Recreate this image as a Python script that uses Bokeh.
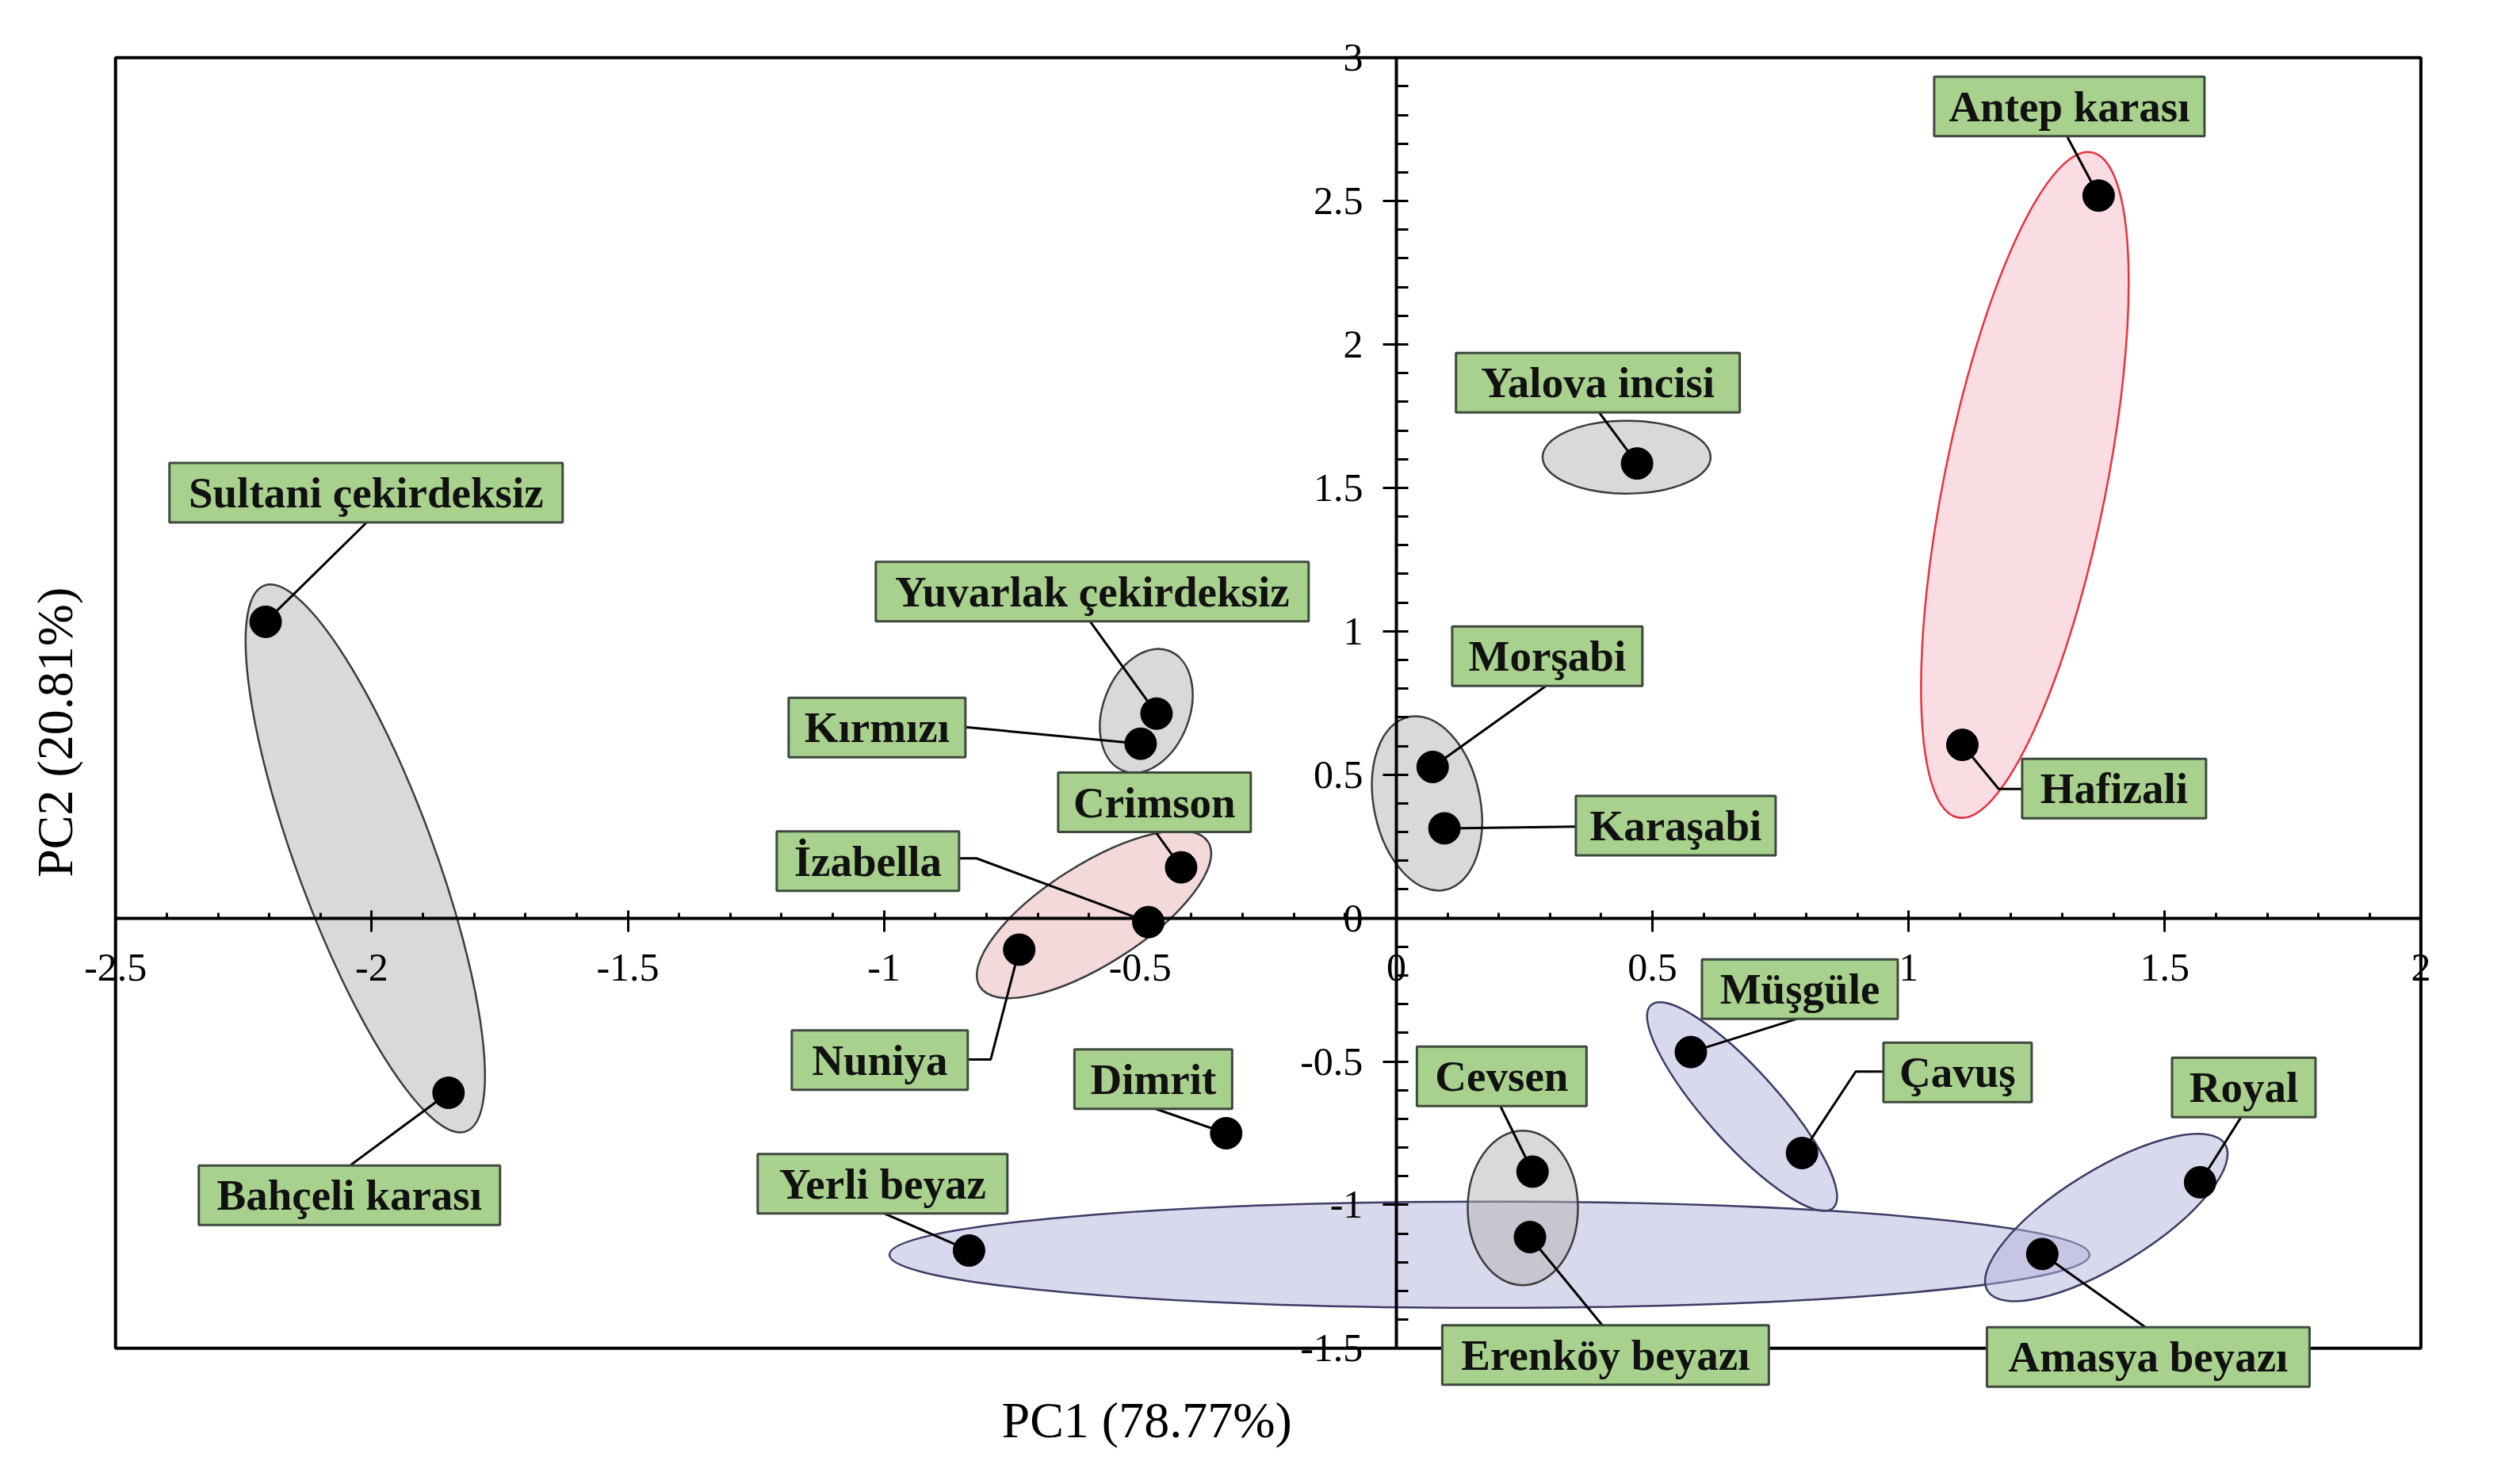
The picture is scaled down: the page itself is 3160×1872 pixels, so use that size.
import numpy as np
from bokeh.plotting import figure
from bokeh.models import Range1d, FixedTicker, Label, ColumnDataSource
from bokeh.embed import file_html
from bokeh.resources import INLINE
from bokeh.core.properties import value

# ---------------- data ----------------
cultivars = ["Sultani çekirdeksiz", "Bahçeli karası", "Yuvarlak çekirdeksiz", "Kırmızı",
             "Crimson", "İzabella", "Nuniya", "Dimrit", "Yerli beyaz", "Yalova incisi",
             "Antep karası", "Hafizali", "Morşabi", "Karaşabi", "Müşgüle", "Çavuş",
             "Cevsen", "Erenköy beyazı", "Royal", "Amasya beyazı"]
pc1 = [-2.207, -1.850, -0.468, -0.499, -0.420, -0.484, -0.736, -0.332, -0.834, 0.470,
       1.371, 1.105, 0.071, 0.094, 0.575, 0.792, 0.266, 0.261, 1.569, 1.261]
pc2 = [1.033, -0.609, 0.713, 0.608, 0.177, -0.014, -0.110, -0.750, -1.159, 1.585,
       2.519, 0.604, 0.527, 0.313, -0.467, -0.819, -0.884, -1.112, -0.921, -1.171]

x_ticks = [-2.5, -2, -1.5, -1, -0.5, 0, 0.5, 1, 1.5, 2]
x_tick_labels = ["-2.5", "-2", "-1.5", "-1", "-0.5", "0", "0.5", "1", "1.5", "2"]
y_ticks = [-1.5, -1, -0.5, 0, 0.5, 1, 1.5, 2, 2.5, 3]
y_tick_labels = ["-1.5", "-1", "-0.5", "0", "0.5", "1", "1.5", "2", "2.5", "3"]
x_title = "PC1 (78.77%)"
y_title = "PC2 (20.81%)"

# ---------------- layout (group ellipses, label boxes, leaders) ----------------
# centre x, centre y (data), width px, height px, angle deg, style
ellipses = [
    (0.182, -1.1736, 1514, 134, 0.0, "blue"),
    (-2.0125, 0.208, 734, 173, -69.7, "gray"),
    (-0.488, 0.7225, 162, 109, 69.2, "gray"),
    (-0.590, 0.013, 341, 126, 32.4, "pink"),
    (0.4496, 1.607, 212, 92, 0.0, "gray"),
    (1.227, 1.510, 856, 204, 78.6, "red"),
    (0.060, 0.400, 223, 134, -78.2, "gray"),
    (0.675, -0.657, 344, 92, -48.1, "blue"),
    (0.247, -1.0105, 139, 195, 0.0, "gray"),
    (1.386, -1.044, 352, 120, 31.7, "blue"),
]
styles = {
    "gray": ("#b4b4b4", "#3c3c3c"),
    "blue": ("#b4b4dc", "#3c3c66"),
    "pink": ("#e7b4b4", "#3c3c3c"),
    "red": ("#f6bcc5", "#e8323e"),
}
# box centre x, y (data), box width px, leader start / elbow points (data)
boxes = [
    (-2.011, 1.483, 496, [(-2.0094, 1.3803)]),
    (-2.0435, -0.966, 380, [(-2.041, -0.861)]),
    (-0.5935, 1.1385, 546, [(-0.598, 1.0348)]),
    (-1.0136, 0.6645, 223, [(-0.841, 0.6658)]),
    (-0.472, 0.4036, 243, [(-0.4697, 0.2996)]),
    (-1.0314, 0.1987, 230, [(-0.8534, 0.2084), (-0.8194, 0.2084)]),
    (-1.0082, -0.495, 222, [(-0.8364, -0.4928), (-0.7916, -0.4928)]),
    (-0.4743, -0.5616, 199, [(-0.4697, -0.665)]),
    (-1.0028, -0.926, 315, [(-0.9989, -1.0299)]),
    (0.3935, 1.8668, 358, [(0.3963, 1.7623)]),
    (1.3138, 2.83, 341, [(1.3099, 2.7236)]),
    (1.4012, 0.4516, 232, [(1.2217, 0.45), (1.1759, 0.45)]),
    (0.2948, 0.9132, 240, [(0.2917, 0.809)]),
    (0.5455, 0.3226, 252, [(0.3505, 0.319)]),
    (0.7878, -0.2474, 247, [(0.7863, -0.3488)]),
    (1.0956, -0.5379, 187, [(0.9509, -0.5351), (0.8968, -0.5351)]),
    (0.2058, -0.5517, 214, [(0.2035, -0.6567)]),
    (0.4085, -1.5232, 412, [(0.4031, -1.4215)]),
    (1.6543, -0.5904, 181, [(1.6489, -0.6943)]),
    (1.4678, -1.5301, 407, [(1.4638, -1.4287)]),
]
BOX_H = 75

p = figure(frame_width=3102, frame_height=1791,
           x_range=Range1d(-2.70, 2.10), y_range=Range1d(-1.85, 3.10),
           output_backend="svg", toolbar_location=None,
           min_border_left=16, min_border_right=10, min_border_top=36, min_border_bottom=10)
p.grid.visible = False
p.outline_line_color = None
p.background_fill_color = "white"

# frame rectangle
p.quad(left=[-2.5], right=[2], bottom=[-1.5], top=[3], fill_color=None,
       line_color="black", line_width=4)

# group ellipses
for cx, cy, w, h, ang, st in ellipses:
    fc, lc = styles[st]
    p.ellipse(x=[cx], y=[cy], width=[w], height=[h], angle=[ang], angle_units="deg",
              width_units="screen", height_units="screen",
              fill_color=fc, fill_alpha=0.5, line_color=lc, line_width=2.5)

# leader lines
xs, ys = [], []
for (bx, by, bw, pts), px, py in zip(boxes, pc1, pc2):
    xs.append([q[0] for q in pts] + [px])
    ys.append([q[1] for q in pts] + [py])
p.multi_line(xs=xs, ys=ys, line_color="black", line_width=3)

# points
src = ColumnDataSource(dict(x=pc1, y=pc2, name=cultivars))
p.scatter("x", "y", source=src, size=40, color="black")

# label boxes
bsrc = ColumnDataSource(dict(x=[b[0] for b in boxes], y=[b[1] for b in boxes],
                             w=[b[2] for b in boxes], name=cultivars))
p.rect("x", "y", width="w", height=BOX_H, width_units="screen", height_units="screen",
       source=bsrc, fill_color="#a9d18e", line_color="#3d4a3d", line_width=3)
p.text("x", "y", text="name", source=bsrc, text_font=value("Liberation Serif"),
       text_font_style="bold", text_font_size="55px", text_align="center",
       text_baseline="middle", text_color="#111111")

# axes crossing at the origin
xa = p.xaxis[0]
ya = p.yaxis[0]
xminor = [round(v, 1) for v in np.arange(-2.5, 2.0001, 0.1)]
yminor = [round(v, 1) for v in np.arange(-1.5, 3.0001, 0.1)]
xa.ticker = FixedTicker(ticks=x_ticks, minor_ticks=xminor)
ya.ticker = FixedTicker(ticks=y_ticks, minor_ticks=yminor)
xa.major_label_overrides = {float(t): s for t, s in zip(x_ticks, x_tick_labels)}
ya.major_label_overrides = {float(t): s for t, s in zip(y_ticks, y_tick_labels)}
for ax in (xa, ya):
    ax.fixed_location = 0
    ax.axis_line_color = "black"
    ax.axis_line_width = 4
    ax.major_tick_line_color = "black"
    ax.major_tick_line_width = 3
    ax.minor_tick_line_color = "black"
    ax.minor_tick_line_width = 3
    ax.minor_tick_out = 0
    ax.major_label_text_font = "Liberation Serif"
    ax.major_label_text_font_size = "50px"
    ax.major_label_text_color = "black"
xa.bounds = (-2.5, 2)
ya.bounds = (-1.5, 3)
xa.major_tick_in = 10
xa.major_tick_out = 17
xa.minor_tick_in = 7
xa.major_label_standoff = 29
ya.major_tick_in = 14
ya.major_tick_out = 17
ya.minor_tick_in = 15
ya.major_label_standoff = 25
ya.major_label_orientation = "horizontal"

# axis titles
p.add_layout(Label(x=-0.487, y=-1.751, text=x_title, text_font="Liberation Serif",
                   text_font_size="64px", text_align="center", text_baseline="middle",
                   text_color="black"))
p.add_layout(Label(x=-2.618, y=0.648, text=y_title, text_font="Liberation Serif",
                   text_font_size="64px", text_align="center", text_baseline="middle",
                   angle=90, angle_units="deg", text_color="black"))

open("out.html", "w").write(file_html(p, INLINE))
